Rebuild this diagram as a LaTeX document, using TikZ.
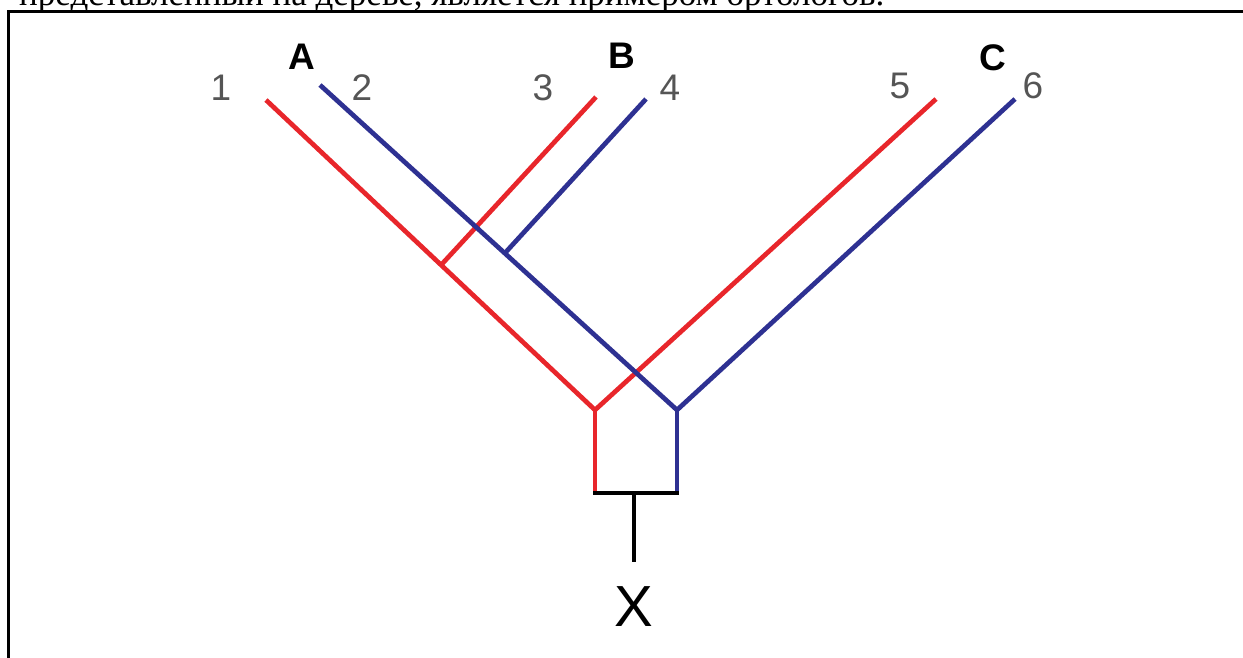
\documentclass[tikz,border=0pt]{standalone}
\usepackage{fontspec}
\setmainfont{Liberation Serif}
\setsansfont{Liberation Sans}
\begin{document}
\begin{tikzpicture}[x=1pt,y=-1pt,
  redl/.style={line width=4.7pt,draw={rgb,255:red,232;green,38;blue,43}},
  bluel/.style={line width=4.7pt,draw={rgb,255:red,46;green,49;blue,146}},
  blackl/.style={line width=4.7pt,draw=black},
  num/.style={font=\sffamily\fontsize{37}{37}\selectfont,text={rgb,255:red,85;green,85;blue,85},inner sep=0pt},
  let/.style={font=\sffamily\bfseries\fontsize{37}{37}\selectfont,text=black,inner sep=0pt},
  line cap=butt]
\useasboundingbox (0,0) rectangle (1243,658);
\clip (0,0) rectangle (1243,658);
% cut-off caption
\node[anchor=base west,inner sep=0pt,font=\fontsize{35}{35}\selectfont] (cap) at (19,6) {представленный на дереве, является примером ортологов.};
% frame
\draw[line width=3pt] (8.5,660) -- (8.5,12) -- (1245,12);
% coordinates
\coordinate (t1) at (266,100);
\coordinate (t2) at (320,85);
\coordinate (t3) at (596,97);
\coordinate (t4) at (646,99);
\coordinate (t5) at (936,99);
\coordinate (t6) at (1015,99);
\coordinate (vr) at (595,410);
\coordinate (vb) at (677,410);
\coordinate (jr) at (442,264);
\coordinate (jb) at (505,253);
\coordinate (br) at (595,493);
\coordinate (bb) at (677,493);
\coordinate (bm) at (634,493);
\coordinate (bs) at (634,562);
% branches
\draw[redl] (t1) -- (vr);
\draw[redl] (jr) -- (t3);
\draw[redl] (vr) -- (t5);
\draw[bluel] (t2) -- (vb);
\draw[bluel] (jb) -- (t4);
\draw[bluel] (vb) -- (t6);
\draw[redl] (vr) -- (br);
\draw[bluel] (vb) -- (bb);
\draw[blackl,line cap=rect] (br) -- (bb);
\draw[blackl] (bm) -- (bs);
% labels
\node[num] (n1) at (221,88) {1};
\node[num] (n2) at (362,88) {2};
\node[num] (n3) at (543,88) {3};
\node[num] (n4) at (670,88) {4};
\node[num] (n5) at (900,86) {5};
\node[num] (n6) at (1033,86) {6};
\node[let] (lA) at (302,57) {A};
\node[let] (lB) at (622,56) {B};
\node[let] (lC) at (993,58) {C};
\node[inner sep=0pt,font=\sffamily\fontsize{58}{58}\selectfont] (lX) at (634,607) {X};
\end{tikzpicture}
\end{document}
